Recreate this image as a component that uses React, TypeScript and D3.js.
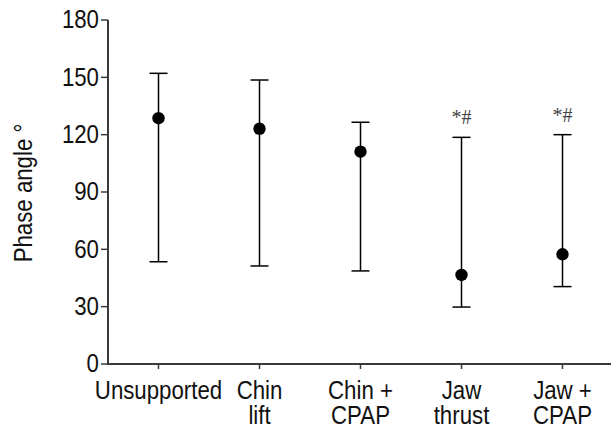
import React from "react";
import * as d3 from "d3";

const categories = ["Unsupported", "Chin lift", "Chin + CPAP", "Jaw thrust", "Jaw + CPAP"];
const labelLines = [["Unsupported"], ["Chin", "lift"], ["Chin +", "CPAP"], ["Jaw", "thrust"], ["Jaw +", "CPAP"]];
const means = [128.6, 123.1, 111.1, 46.6, 57.4];
const upper = [152.1, 148.6, 126.5, 118.6, 120.0];
const lower = [53.5, 51.3, 48.7, 29.8, 40.5];
const annotations = ["", "", "", "*#", "*#"];
const yTicks = [0, 30, 60, 90, 120, 150, 180];

const W = 611, H = 428;
const FONT = "'Liberation Sans', Arial, sans-serif";
const SX = 0.89;
const FS = 25;

export default function App() {
  const y = d3.scaleLinear().domain([0, 180]).range([364, 20]);
  const x = d3.scaleBand<string>().domain(categories).range([108, 613]);
  const cx = (c: string) => (x(c) as number) + x.bandwidth() / 2;
  const axisColor = "#3a3a3a";
  return (
    <svg width={W} height={H} style={{ position: "absolute", left: 0, top: 0, background: "#fff" }}>
      {/* y axis */}
      <line x1={108} x2={108} y1={y(180)} y2={y(0) + 1} stroke={axisColor} strokeWidth={2} />
      {yTicks.map((t) => (
        <g key={t}>
          <line x1={101} x2={108} y1={y(t)} y2={y(t)} stroke={axisColor} strokeWidth={1.5} />
          <text
            transform={`translate(99,${y(t)}) scale(${SX},1)`}
            textAnchor="end"
            dominantBaseline="central"
            fontFamily={FONT}
            fontSize={FS}
            fill="#111"
          >
            {t}
          </text>
        </g>
      ))}
      {/* x axis */}
      <line x1={107} x2={611} y1={y(0)} y2={y(0)} stroke={axisColor} strokeWidth={2} />
      {categories.map((c, i) => (
        <g key={c}>
          <line x1={cx(c)} x2={cx(c)} y1={y(0)} y2={y(0) + 5} stroke={axisColor} strokeWidth={1.5} />
          {labelLines[i].map((ln, j) => (
            <text
              key={j}
              transform={`translate(${cx(c)},${399 + j * 25}) scale(${SX},1)`}
              textAnchor="middle"
              fontFamily={FONT}
              fontSize={FS}
              fill="#111"
            >
              {ln}
            </text>
          ))}
          {/* error bar */}
          <line x1={cx(c)} x2={cx(c)} y1={y(upper[i])} y2={y(lower[i])} stroke="#000" strokeWidth={1.5} />
          <line x1={cx(c) - 9} x2={cx(c) + 9} y1={y(upper[i])} y2={y(upper[i])} stroke="#000" strokeWidth={1.5} />
          <line x1={cx(c) - 9} x2={cx(c) + 9} y1={y(lower[i])} y2={y(lower[i])} stroke="#000" strokeWidth={1.5} />
          <circle cx={cx(c)} cy={y(means[i])} r={6.2} fill="#000" />
          {annotations[i] && (
            <text
              x={cx(c)}
              y={y(upper[i]) - 13}
              textAnchor="middle"
              fontFamily="'Liberation Serif', 'Times New Roman', serif"
              fontSize={20}
              fill="#444"
            >
              {annotations[i]}
            </text>
          )}
        </g>
      ))}
      {/* y label */}
      <text
        transform={`translate(32,193) rotate(-90) scale(${SX},1)`}
        textAnchor="middle"
        fontFamily={FONT}
        fontSize={FS}
        fill="#111"
      >
        Phase angle °
      </text>
    </svg>
  );
}
